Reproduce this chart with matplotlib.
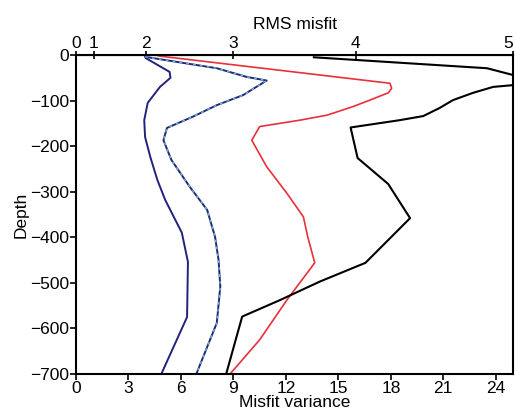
import numpy as np
import matplotlib.pyplot as plt

# misfit variance vs depth
depth_a = [-7, -37, -50, -70, -105, -143, -180, -224, -274, -318, -390, -454, -575, -698]
var_a = [4.0, 5.35, 5.4, 4.8, 4.1, 3.9, 3.95, 4.25, 4.65, 5.1, 6.05, 6.4, 6.35, 4.9]

depth_b = [-4, -29, -48, -56, -88, -110, -135, -160, -187, -230, -289, -340, -399, -450, -508, -588, -698]
var_b = [3.95, 8.05, 9.75, 10.9, 9.55, 8.05, 6.7, 5.2, 5.0, 5.45, 6.5, 7.5, 7.95, 8.15, 8.25, 8.05, 6.9]

depth_red = [-2, -62, -73, -83, -99, -113, -132, -143, -157, -187, -245, -303, -355, -399, -456, -538, -625, -698]
var_red = [4.7, 17.95, 18.05, 17.85, 16.8, 15.85, 14.35, 12.8, 10.5, 10.05, 10.9, 12.05, 13.0, 13.25, 13.65, 12.05, 10.5, 8.85]

depth_blk = [-5, -29, -44, -60, -66, -70, -83, -99, -116, -134, -143, -159, -226, -283, -358, -456, -497, -538, -574, -698]
var_blk = [13.6, 23.5, 25.0, 26.6, 25.0, 23.85, 22.7, 21.55, 20.8, 19.85, 18.5, 15.7, 16.1, 17.85, 19.1, 16.55, 13.95, 11.65, 9.5, 8.6]

var_ticks = [0, 3, 6, 9, 12, 15, 18, 21, 24]
rms_ticks = [0, 1, 2, 3, 4, 5]
depth_ticks = [0, -100, -200, -300, -400, -500, -600, -700]

plt.rcParams['font.family'] = ['Liberation Sans', 'DejaVu Sans']
plt.rcParams['font.size'] = 12.5

fig = plt.figure(figsize=(5.15, 4.2), dpi=100)
ax = fig.add_axes([0.1476, 0.1095, 0.849, 0.7595])

ax.plot(var_a, depth_a, color='#22227a', lw=1.4)
ax.plot(var_b, depth_b, color='#1c2a70', lw=1.4)
ax.plot(var_b, depth_b, color='#7fb0d8', lw=1.0, ls=(0, (2, 3)))
ax.plot(var_red, depth_red, color='#e8303a', lw=1.2)
ax.plot(var_blk, depth_blk, color='black', lw=1.5)

ax.set_xlim(0, 25)
ax.set_ylim(-700, 0)
ax.set_xticks(var_ticks)
ax.set_yticks(depth_ticks)
ax.set_xlabel('Misfit variance', labelpad=-1)
ax.set_ylabel('Depth', labelpad=1)
ax.tick_params(direction='out', length=4, width=1.2, pad=1)

for s in ax.spines.values():
    s.set_linewidth(1.5)

top = ax.secondary_xaxis('top', functions=(lambda x: np.sqrt(np.maximum(x, 0)), lambda x: np.square(x)))
top.set_xticks(rms_ticks)
top.set_xlabel('RMS misfit', labelpad=5)
top.tick_params(direction='inout', length=6, width=1.2, pad=0)
# keep the last top label inside the figure
top.get_xticklabels()[-1].set_horizontalalignment('right')

fig.savefig('out.png', dpi=100)
